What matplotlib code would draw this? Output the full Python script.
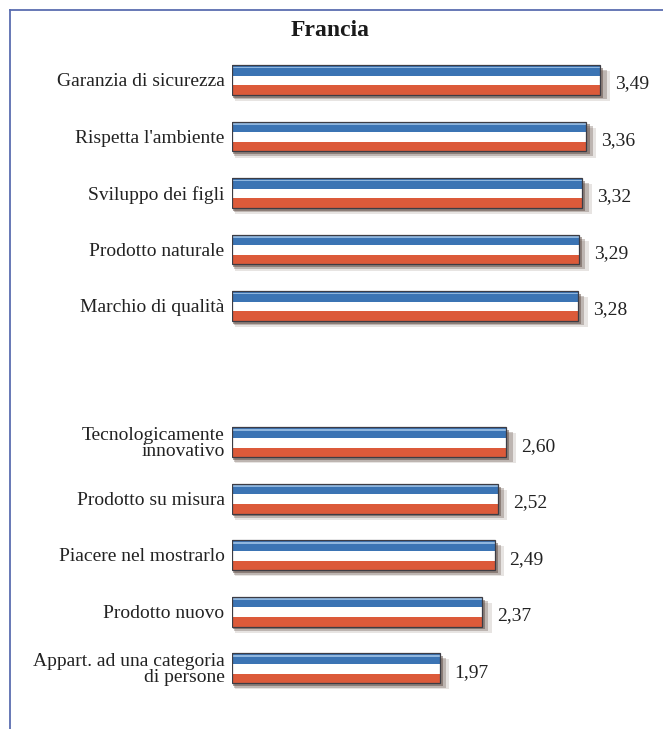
import matplotlib.pyplot as plt
import numpy as np
from matplotlib.lines import Line2D

labels = [
    "Garanzia di sicurezza",
    "Rispetta l'ambiente",
    "Sviluppo dei figli",
    "Prodotto naturale",
    "Marchio di qualità",
    "Tecnologicamente\ninnovativo",
    "Prodotto su misura",
    "Piacere nel mostrarlo",
    "Prodotto nuovo",
    "Appart. ad una categoria\ndi persone",
]
values = [3.49, 3.36, 3.32, 3.29, 3.28, 2.60, 2.52, 2.49, 2.37, 1.97]
group_split = 5  # first five are the top group
group_gap = 1.41

BLUE = "#3b74b4"
RED = "#dc5a3a"
SHADOW = "#5e4a40"
FRAME = "#5a6db0"

plt.rcParams["font.family"] = ["Liberation Serif", "DejaVu Serif"]

W, H = 663, 729
fig = plt.figure(figsize=(W / 100, H / 100), dpi=100)
fig.patch.set_facecolor("white")

# axes: x=0 at px 232, 105.5 px per unit; rows 56.5 px apart, first row at px 80
ax_left = 232 / W
ax_width = (W - 232) / W
ax = fig.add_axes([ax_left, 0, ax_width, 1])
ax.set_xlim(0, (W - 232) / 105.5)
row_px = 56.5
ax.set_ylim(729 / row_px - 80 / row_px, -80 / row_px)
ax.axis("off")

idx = np.arange(len(values))
ypos = idx + group_gap * (idx >= group_split)
vals = np.array(values)

h_blue, h_white, h_red = 0.19, 0.17, 0.17
total_h = h_blue + h_white + h_red
top = ypos - total_h / 2

# soft drop shadow
for dx, dy, a in [(0.02, 0.05, 0.5), (0.04, 0.08, 0.3), (0.06, 0.11, 0.15)]:
    ax.barh(ypos + dy, vals + dx, height=total_h, left=dx / 2,
            color=SHADOW, alpha=a, linewidth=0, zorder=1)

ax.barh(top + h_blue / 2, vals, height=h_blue, color=BLUE, linewidth=0, zorder=2)
ax.barh(top + h_blue + h_white / 2, vals, height=h_white, color="white",
        linewidth=0, zorder=2)
ax.barh(top + h_blue + h_white + h_red / 2, vals, height=h_red, color=RED,
        linewidth=0, zorder=2)
# light highlight on the blue stripe
ax.barh(top + 0.045, vals, height=0.03, color="#8fb6de", linewidth=0, zorder=3)
# outline
ax.barh(ypos, vals, height=total_h, fill=False, edgecolor="#3c3c44",
        linewidth=0.9, zorder=4)

for y, v in zip(ypos, vals):
    ax.text(v + 0.14, y + 0.07, f"{v:.2f}".replace(".", ","), ha="left",
            va="center", fontsize=14, color="#222222")

for y, lab in zip(ypos, labels):
    ax.text(-0.07, y + 0.03, lab, ha="right", va="center", fontsize=14,
            color="#222222", linespacing=0.92)

fig.text(330 / W, 1 - 31 / H, "Francia", ha="center", va="center",
         fontsize=17, fontweight="bold", color="#1a1a1a")

fig.add_artist(Line2D([10 / W, 10 / W], [0, 1 - 10 / H], color=FRAME, lw=1.3))
fig.add_artist(Line2D([10 / W, 1], [1 - 10 / H, 1 - 10 / H], color=FRAME, lw=1.3))

fig.savefig("out.png", dpi=100)
